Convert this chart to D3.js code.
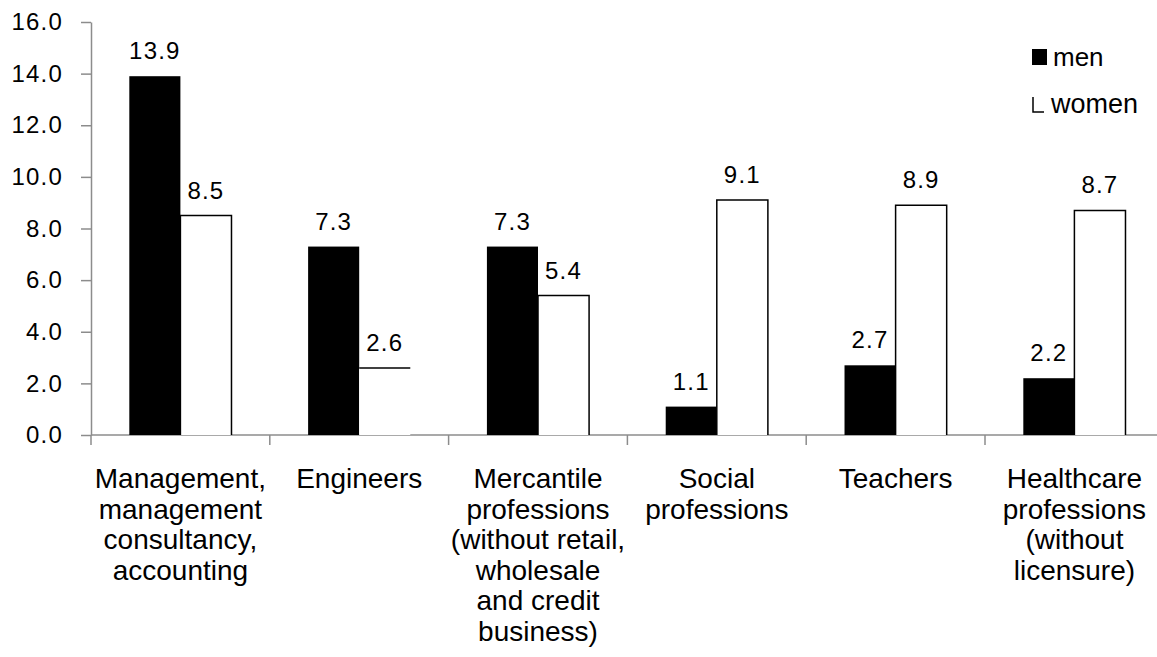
<!DOCTYPE html>
<html>
<head>
<meta charset="utf-8">
<script src="https://cdn.jsdelivr.net/npm/d3@7"></script>
<style>
  html, body { margin: 0; padding: 0; background: #fff; }
  svg { display: block; font-family: "Liberation Sans", Arial, sans-serif; }
</style>
</head>
<body>
<svg id="chart" width="1157" height="657"></svg>
<script>
// ---- data ----
const categories = [
  "Management, management consultancy, accounting",
  "Engineers",
  "Mercantile professions (without retail, wholesale and credit business)",
  "Social professions",
  "Teachers",
  "Healthcare professions (without licensure)"
];
const categoryLines = [
  ["Management,", "management", "consultancy,", "accounting"],
  ["Engineers"],
  ["Mercantile", "professions", "(without retail,", "wholesale", "and credit", "business)"],
  ["Social", "professions"],
  ["Teachers"],
  ["Healthcare", "professions", "(without", "licensure)"]
];
const seriesNames = ["men", "women"];
const menValues = [13.9, 7.3, 7.3, 1.1, 2.7, 2.2];
const womenValues = [8.5, 2.6, 5.4, 9.1, 8.9, 8.7];
const yTickValues = [0, 2, 4, 6, 8, 10, 12, 14, 16];

// ---- layout ----
const svg = d3.select("#chart");
const plotLeft = 91, plotTop = 22, plotBottom = 435;
const catW = 178.8;
const axisColor = "#8c8c8c";

const x0 = d3.scaleBand().domain(categories)
  .range([plotLeft, plotLeft + catW * categories.length]).paddingInner(0).paddingOuter(0);
const x1 = d3.scaleBand().domain(seriesNames)
  .range([0, x0.bandwidth()]).paddingInner(0).paddingOuter(0.75);
const y = d3.scaleLinear().domain([0, 16]).range([plotBottom, plotTop]);

// y axis
const yAxis = svg.append("g").attr("transform", `translate(${plotLeft},0)`)
  .call(d3.axisLeft(y).tickValues(yTickValues).tickFormat(d3.format(".1f"))
    .tickSize(10).tickSizeOuter(0).tickPadding(18));
yAxis.select(".domain").attr("stroke", axisColor).attr("stroke-width", 1.5);
yAxis.selectAll(".tick line").attr("stroke", axisColor).attr("stroke-width", 1.5);
yAxis.selectAll(".tick text").attr("fill", "#000").attr("font-size", 24)
  .attr("font-family", "Liberation Sans, Arial, sans-serif").attr("letter-spacing", 1.2);

// x axis line
svg.append("line").attr("x1", plotLeft).attr("x2", 1157).attr("y1", y(0)).attr("y2", y(0))
  .attr("stroke", axisColor).attr("stroke-width", 1.5);
// category boundary ticks
svg.append("g").selectAll("line").data(categories).join("line")
  .attr("x1", d => x0(d)).attr("x2", d => x0(d))
  .attr("y1", y(0)).attr("y2", y(0) + 10)
  .attr("stroke", axisColor).attr("stroke-width", 1.5);

// bars
const groups = svg.append("g").selectAll("g").data(categories).join("g")
  .attr("transform", d => `translate(${x0(d)},0)`);

groups.append("rect")
  .attr("x", x1("men")).attr("width", x1.bandwidth())
  .attr("y", (d, i) => y(menValues[i]))
  .attr("height", (d, i) => y(0) - y(menValues[i]))
  .attr("fill", "#000");

groups.append("rect")
  .attr("x", x1("women")).attr("width", x1.bandwidth())
  .attr("y", (d, i) => y(womenValues[i]))
  .attr("height", (d, i) => y(0) - y(womenValues[i]))
  .attr("fill", "#fff");

groups.append("path")
  .attr("d", (d, i) => {
    const xa = x1("women"), xb = xa + x1.bandwidth();
    const yt = y(womenValues[i]), yb = y(0);
    if (i === 1) return `M${xa},${yt}H${xb}`;
    return `M${xa},${yb}V${yt}H${xb}V${yb}`;
  })
  .attr("fill", "none").attr("stroke", "#000").attr("stroke-width", 1.5);

// value labels
groups.append("text")
  .attr("x", x1("men") + x1.bandwidth() / 2)
  .attr("y", (d, i) => y(menValues[i]) - 17)
  .attr("text-anchor", "middle").attr("font-size", 24).attr("letter-spacing", 1.2)
  .text((d, i) => d3.format(".1f")(menValues[i]));
groups.append("text")
  .attr("x", x1("women") + x1.bandwidth() / 2)
  .attr("y", (d, i) => y(womenValues[i]) - 17)
  .attr("text-anchor", "middle").attr("font-size", 24).attr("letter-spacing", 1.2)
  .text((d, i) => d3.format(".1f")(womenValues[i]));

// category labels
groups.append("text")
  .attr("text-anchor", "middle").attr("font-size", 28)
  .selectAll("tspan").data((d, i) => categoryLines[i]).join("tspan")
  .attr("x", x0.bandwidth() / 2)
  .attr("y", (d, j) => 488 + j * 30.6)
  .text(d => d);

// legend
const lg = svg.append("g");
lg.append("rect").attr("x", 1032).attr("y", 49).attr("width", 15).attr("height", 16).attr("fill", "#000");
lg.append("text").attr("x", 1053).attr("y", 66).attr("font-size", 26).text(seriesNames[0]);
lg.append("path").attr("d", "M1033,97V112H1044").attr("fill", "none").attr("stroke", "#000").attr("stroke-width", 1.5);
lg.append("text").attr("x", 1051).attr("y", 113).attr("font-size", 27).text(seriesNames[1]);
</script>
</body>
</html>
